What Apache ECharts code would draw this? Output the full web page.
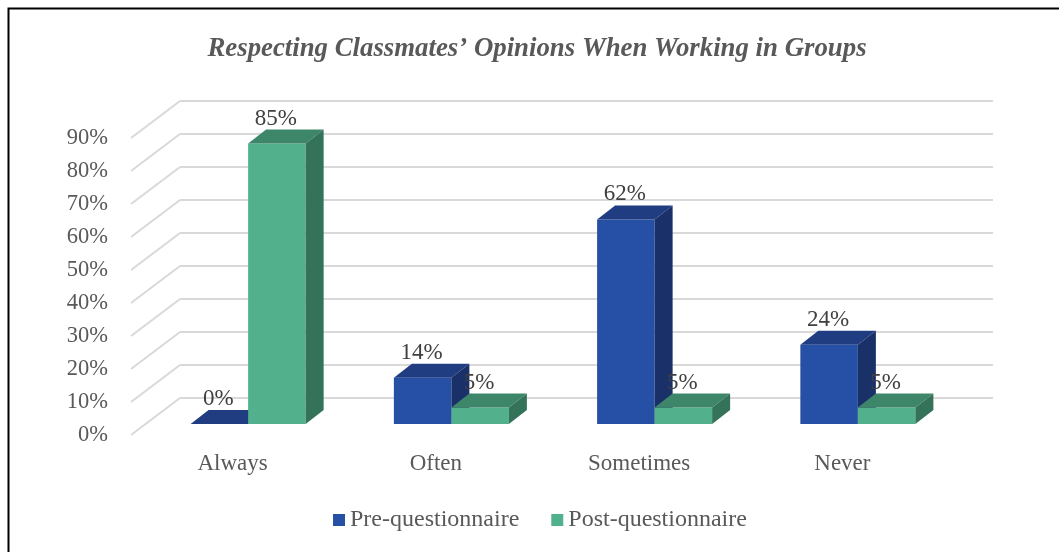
<!DOCTYPE html>
<html><head><meta charset="utf-8">
<script src="https://cdn.jsdelivr.net/npm/echarts@6/dist/echarts.min.js"></script>
<style>html,body{margin:0;padding:0;background:#fff}#c{width:1059px;height:552px}</style>
</head><body><div id="c"></div>
<script>
const titleText = 'Respecting Classmates\u2019 Opinions When Working in Groups';
const categories = ['Always', 'Often', 'Sometimes', 'Never'];
const preValues = [0, 14, 62, 24];
const postValues = [85, 5, 5, 5];
const seriesNames = ['Pre-questionnaire', 'Post-questionnaire'];
const yTicks = [0, 10, 20, 30, 40, 50, 60, 70, 80, 90];

const FONT = '"Liberation Serif", "Times New Roman", serif';
const BAR_FRAC = 0.283;      // bar width as fraction of category band
const DX = 18, DY = 14;      // bar depth
const WALL_DX = 49, WALL_DY = 37; // floor depth
const preColors = {front: '#264FA6', top: '#1F3D80', side: '#1A3068'};
const postColors = {front: '#52B08D', top: '#3E866A', side: '#34735A'};

function makeBar(side, colors) {
  return function (params, api) {
    const ci = api.value(0), v = api.value(1);
    const b = api.coord([ci, 0]);
    const t = api.coord([ci, v]);
    const band = api.size([1, 0])[0];
    const w = band * BAR_FRAC;
    const x0 = side < 0 ? b[0] - w : b[0];
    const x1 = x0 + w;
    const yb = b[1], yt = t[1];
    return {
      type: 'group',
      children: [
        {type: 'rect', shape: {x: x0, y: yt, width: w, height: yb - yt}, style: {fill: colors.front}},
        {type: 'polygon', shape: {points: [[x0, yt], [x0 + DX, yt - DY], [x1 + DX, yt - DY], [x1, yt]]}, style: {fill: colors.top}},
        {type: 'polygon', shape: {points: [[x1, yt], [x1 + DX, yt - DY], [x1 + DX, yb - DY], [x1, yb]]}, style: {fill: colors.side}},
        {type: 'text', x: (x0 + x1) / 2 - 1, y: yt - 25, z2: 100,
          style: {text: v + '%', fill: '#404040', font: '23px ' + FONT, align: 'center', verticalAlign: 'middle'}}
      ]
    };
  };
}

const chart = echarts.init(document.getElementById('c'), null, {renderer: 'canvas'});
const axisBase = (gi) => ({
  type: 'value', gridIndex: gi, min: 0, max: 90, interval: 10,
  axisLine: {show: false}, axisTick: {show: false}
});
const xBase = (gi) => ({
  type: 'category', gridIndex: gi, data: categories, boundaryGap: true,
  axisLine: {show: false}, axisTick: {show: false}
});

chart.setOption({
  animation: false,
  backgroundColor: '#fff',
  title: {
    text: titleText, left: 537, textAlign: 'center', top: 36, padding: 0,
    textStyle: {fontFamily: FONT, fontSize: 26.8, fontStyle: 'italic', fontWeight: 'bold', color: '#595959'}
  },
  legend: {
    data: seriesNames, left: 333, top: 508, padding: 0, itemWidth: 12, itemHeight: 12, itemGap: 32, icon: 'rect',
    textStyle: {fontFamily: FONT, fontSize: 24, color: '#595959'}
  },
  grid: [
    {left: 131, top: 138, width: 813, height: 297},
    {left: 146.5, top: 127, width: 813, height: 297},
    {left: 180, top: 101, width: 813, height: 297}
  ],
  xAxis: [
    Object.assign(xBase(0), {axisLabel: {margin: 17, fontFamily: FONT, fontSize: 23, color: '#595959'}}),
    Object.assign(xBase(1), {axisLabel: {show: false}}),
    Object.assign(xBase(2), {axisLabel: {show: false}})
  ],
  yAxis: [
    Object.assign(axisBase(0), {splitLine: {show: false},
      axisLabel: {margin: 23, formatter: '{value}%', fontFamily: FONT, fontSize: 22.5, color: '#595959'}}),
    Object.assign(axisBase(1), {splitLine: {show: false}, axisLabel: {show: false}}),
    Object.assign(axisBase(2), {axisLabel: {show: false},
      splitLine: {show: true, lineStyle: {color: '#D9D9D9', width: 2}}})
  ],
  graphic: [
    {type: 'rect', shape: {x: 8.5, y: 8.5, width: 1200, height: 700}, style: {fill: null, stroke: '#000', lineWidth: 2}, z: -1}
  ],
  series: [
    {
      type: 'custom', name: 'wall', xAxisIndex: 0, yAxisIndex: 0, silent: true,
      data: yTicks.map(v => [0, v]),
      renderItem: function (params, api) {
        const y = api.coord([0, api.value(1)])[1];
        const x = params.coordSys.x;
        return {type: 'line', shape: {x1: x, y1: y, x2: x + WALL_DX, y2: y - WALL_DY},
          style: {stroke: '#D9D9D9', lineWidth: 2}};
      }
    },
    {
      type: 'custom', name: seriesNames[0], xAxisIndex: 1, yAxisIndex: 1,
      itemStyle: {color: preColors.front},
      data: preValues.map((v, i) => [i, v]),
      renderItem: makeBar(-1, preColors)
    },
    {
      type: 'custom', name: seriesNames[1], xAxisIndex: 1, yAxisIndex: 1,
      itemStyle: {color: postColors.front},
      data: postValues.map((v, i) => [i, v]),
      renderItem: makeBar(1, postColors)
    }
  ]
});
</script>
</body></html>
